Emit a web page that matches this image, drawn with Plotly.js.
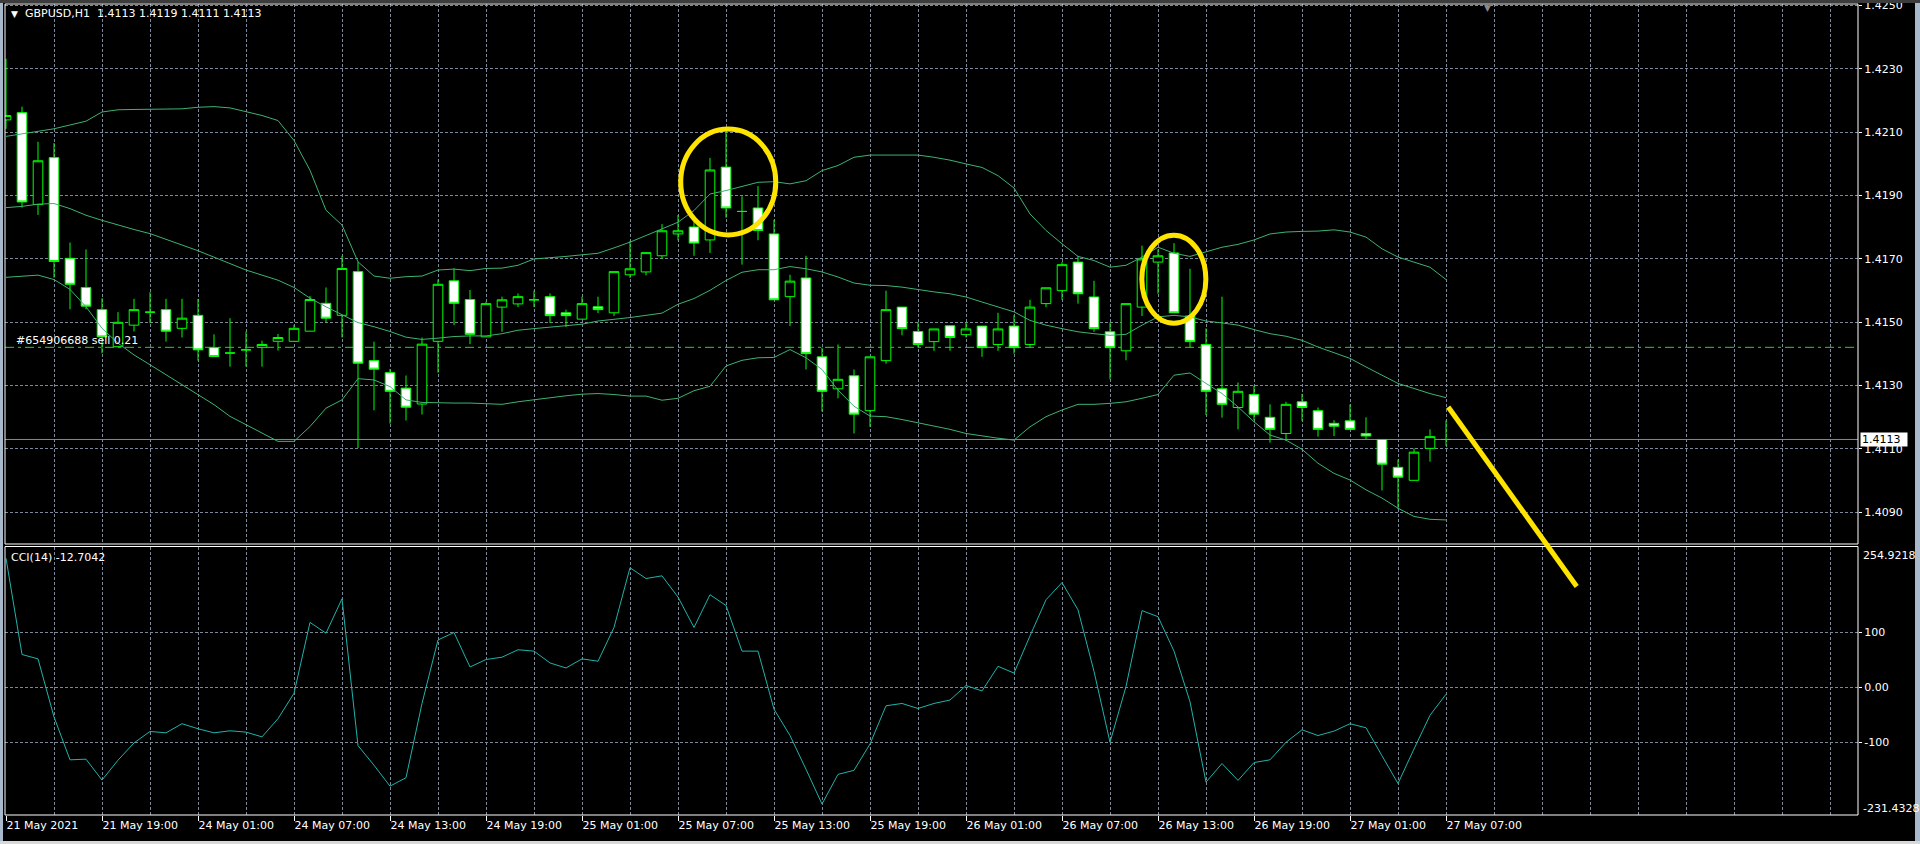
<!DOCTYPE html>
<html>
<head>
<meta charset="utf-8">
<script src="https://cdn.plot.ly/plotly-3.0.1.min.js"></script>
<style>
html,body{margin:0;padding:0;background:#000;overflow:hidden;}
#chart{width:1920px;height:844px;}
</style>
</head>
<body>
<div id="chart"></div>
<script>
// ---- data (GBPUSD H1, 21 May 13:00 .. 27 May 07:00) ----
const openP = [1.42139,1.42162,1.41872,1.42020,1.41702,1.41610,1.41540,1.41423,1.41491,1.41532,
1.41540,1.41481,1.41522,1.41420,1.41403,1.41413,1.41421,1.41440,1.41440,1.41472,
1.41560,1.41522,1.41660,1.41379,1.41341,1.41292,1.41242,1.41440,1.41631,1.41572,
1.41454,1.41548,1.41558,1.41571,1.41581,1.41530,1.41510,1.41549,1.41530,1.41650,
1.41659,1.41710,1.41779,1.41801,1.41760,1.41990,1.41850,1.41861,1.41779,1.41581,
1.41640,1.41391,1.41290,1.41331,1.41221,1.41379,1.41548,1.41471,1.41439,1.41489,
1.41461,1.41488,1.41430,1.41488,1.41430,1.41559,1.41600,1.41690,1.41580,1.41470,
1.41410,1.41548,1.41690,1.41719,1.41520,1.41430,1.41290,1.41231,1.41272,1.41200,
1.41149,1.41249,1.41221,1.41181,1.41189,1.41149,1.41130,1.41042,1.41001,1.41102,
1.41130];
const highP = [1.42332,1.42181,1.42070,1.42066,1.41752,1.41730,1.41576,1.41532,1.41574,1.41595,
1.41574,1.41574,1.41574,1.41462,1.41513,1.41471,1.41442,1.41463,1.41492,1.41583,
1.41610,1.41710,1.41691,1.41439,1.41352,1.41332,1.41452,1.41635,1.41670,1.41602,
1.41565,1.41581,1.41591,1.41600,1.41591,1.41540,1.41581,1.41581,1.41660,1.41757,
1.41720,1.41810,1.41839,1.41819,1.42019,1.42102,1.41898,1.41930,1.41824,1.41650,
1.41710,1.41420,1.41430,1.41351,1.41391,1.41600,1.41548,1.41500,1.41479,1.41489,
1.41500,1.41488,1.41530,1.41522,1.41571,1.41609,1.41690,1.41710,1.41631,1.41500,
1.41559,1.41742,1.41730,1.41750,1.41669,1.41481,1.41581,1.41310,1.41300,1.41241,
1.41249,1.41274,1.41231,1.41191,1.41241,1.41200,1.41130,1.41067,1.41102,1.41162,
1.41190];
const lowP = [1.42111,1.41862,1.41839,1.41641,1.41541,1.41541,1.41402,1.41423,1.41471,1.41497,
1.41439,1.41452,1.41379,1.41392,1.41360,1.41360,1.41360,1.41411,1.41440,1.41472,
1.41500,1.41452,1.41103,1.41222,1.41180,1.41190,1.41209,1.41341,1.41491,1.41431,
1.41454,1.41470,1.41548,1.41548,1.41498,1.41485,1.41510,1.41529,1.41520,1.41640,
1.41648,1.41700,1.41759,1.41710,1.41719,1.41830,1.41682,1.41759,1.41571,1.41488,
1.41351,1.41218,1.41260,1.41149,1.41170,1.41369,1.41459,1.41420,1.41410,1.41410,
1.41452,1.41391,1.41410,1.41401,1.41420,1.41548,1.41571,1.41559,1.41470,1.41320,
1.41380,1.41520,1.41590,1.41530,1.41420,1.41207,1.41199,1.41162,1.41191,1.41120,
1.41126,1.41189,1.41139,1.41141,1.41162,1.41130,1.40969,1.40910,1.41001,1.41060,
1.41110];
const closeP = [1.42153,1.41880,1.42010,1.41692,1.41620,1.41551,1.41454,1.41500,1.41540,1.41532,
1.41472,1.41513,1.41413,1.41392,1.41403,1.41413,1.41430,1.41452,1.41481,1.41572,
1.41513,1.41670,1.41371,1.41352,1.41282,1.41232,1.41431,1.41620,1.41560,1.41462,
1.41559,1.41571,1.41581,1.41571,1.41521,1.41521,1.41559,1.41540,1.41660,1.41669,
1.41720,1.41789,1.41789,1.41750,1.41981,1.41861,1.41850,1.41790,1.41571,1.41630,
1.41401,1.41282,1.41320,1.41210,1.41391,1.41540,1.41480,1.41430,1.41479,1.41452,
1.41479,1.41420,1.41479,1.41420,1.41548,1.41609,1.41682,1.41590,1.41480,1.41420,
1.41559,1.41700,1.41710,1.41530,1.41439,1.41282,1.41241,1.41282,1.41210,1.41162,
1.41241,1.41231,1.41162,1.41172,1.41162,1.41141,1.41052,1.41011,1.41090,1.41139,
1.41130];

const bbUpper = [1.42087,1.42095,1.42104,1.42111,1.42123,1.42135,1.42164,1.42171,1.42172,1.42173,
1.42173,1.42174,1.42179,1.42181,1.42177,1.42164,1.42153,1.42137,1.42074,1.41980,
1.41854,1.41807,1.41691,1.41646,1.41639,1.41644,1.41646,1.41665,1.41668,1.41663,
1.41670,1.41671,1.41680,1.41700,1.41703,1.41708,1.41713,1.41718,1.41735,1.41753,
1.41774,1.41795,1.41816,1.41853,1.41905,1.41916,1.41928,1.41942,1.41944,1.41937,
1.41947,1.41979,1.41995,1.42021,1.42028,1.42028,1.42028,1.42028,1.42021,1.42012,
1.42000,1.41989,1.41963,1.41924,1.41842,1.41790,1.41748,1.41708,1.41695,1.41674,
1.41680,1.41706,1.41737,1.41718,1.41708,1.41722,1.41737,1.41746,1.41760,1.41779,
1.41785,1.41787,1.41788,1.41792,1.41785,1.41769,1.41732,1.41706,1.41690,1.41674,
1.41635];
const bbMiddle = [1.41862,1.41866,1.41873,1.41875,1.41859,1.41838,1.41822,1.41807,1.41793,1.41780,
1.41761,1.41744,1.41726,1.41705,1.41686,1.41665,1.41649,1.41633,1.41610,1.41576,
1.41549,1.41523,1.41499,1.41486,1.41471,1.41453,1.41446,1.41450,1.41455,1.41457,
1.41457,1.41464,1.41475,1.41480,1.41485,1.41488,1.41494,1.41504,1.41509,1.41515,
1.41522,1.41529,1.41557,1.41575,1.41601,1.41632,1.41658,1.41666,1.41666,1.41676,
1.41669,1.41659,1.41643,1.41624,1.41617,1.41616,1.41611,1.41603,1.41596,1.41590,
1.41580,1.41564,1.41548,1.41533,1.41506,1.41491,1.41480,1.41470,1.41464,1.41459,
1.41462,1.41491,1.41517,1.41522,1.41517,1.41504,1.41498,1.41491,1.41477,1.41464,
1.41456,1.41443,1.41422,1.41403,1.41386,1.41359,1.41333,1.41307,1.41291,1.41275,
1.41262];
const bbLower = [1.41642,1.41646,1.41649,1.41635,1.41604,1.41549,1.41481,1.41434,1.41397,1.41366,
1.41334,1.41303,1.41271,1.41240,1.41203,1.41177,1.41150,1.41124,1.41124,1.41171,
1.41229,1.41255,1.41322,1.41318,1.41297,1.41255,1.41247,1.41245,1.41245,1.41245,
1.41242,1.41241,1.41249,1.41256,1.41263,1.41268,1.41273,1.41275,1.41272,1.41267,
1.41267,1.41254,1.41260,1.41284,1.41298,1.41362,1.41380,1.41388,1.41389,1.41414,
1.41388,1.41351,1.41286,1.41235,1.41204,1.41202,1.41193,1.41183,1.41172,1.41162,
1.41149,1.41141,1.41134,1.41128,1.41170,1.41202,1.41223,1.41241,1.41241,1.41244,
1.41249,1.41260,1.41272,1.41333,1.41340,1.41307,1.41275,1.41233,1.41186,1.41144,
1.41128,1.41099,1.41055,1.41023,1.41002,1.40971,1.40945,1.40913,1.40887,1.40878,
1.40876];

const cci14 = [233.6,59.3,51.4,-53.8,-131.5,-130.3,-168.2,-132.1,-100.9,-80.1,
-82.6,-66.1,-75.2,-82.6,-78.9,-81.3,-89.9,-56.9,-11.0,117.4,
97.9,160.2,-105.8,-141.3,-179.2,-163.9,-29.4,85.6,99.1,36.7,
50.2,54.4,67.9,65.4,44.0,34.9,51.4,47.1,108.3,216.5,
196.9,201.8,163.3,108.3,167.6,148.0,65.4,65.4,-39.8,-87.5,
-148.6,-211.6,-157.8,-150.5,-102.8,-33.6,-29.4,-38.5,-29.4,-23.2,
3.1,-6.7,37.9,25.7,93.0,158.4,189.6,140.1,28.7,-99.7,
1.2,138.8,127.8,65.4,-26.3,-171.9,-138.2,-168.8,-136.4,-131.5,
-99.7,-77.1,-87.5,-79.5,-66.1,-73.4,-124.2,-174.3,-111.9,-50.8,
-12.7042];

const timeLabelBars = [0,6,12,18,24,30,36,42,48,54,60,66,72,78,84,90];
const timeLabels = ['21 May 2021','21 May 19:00','24 May 01:00','24 May 07:00','24 May 13:00',
'24 May 19:00','25 May 01:00','25 May 07:00','25 May 13:00','25 May 19:00','26 May 01:00',
'26 May 07:00','26 May 13:00','26 May 19:00','27 May 01:00','27 May 07:00'];
const priceTicks = [1.4090,1.4110,1.4130,1.4150,1.4170,1.4190,1.4210,1.4230,1.4250];
const priceTickText = ['1.4090','1.4110','1.4130','1.4150','1.4170','1.4190','1.4210','1.4230','1.4250'];
const cciTicks = [100,0,-100];
const cciTickText = ['100','0.00','-100'];
const cciMax = 254.9218, cciMin = -231.4328;
const bidPrice = 1.4113;
const orderPrice = 1.41421;
const titleText = 'GBPUSD,H1\u00a0\u00a01.4113 1.4119 1.4111 1.4113';
const cciTitle = 'CCI(14) -12.7042';
const orderLabel = '#654906688 sell 0.21';

const bars = openP.map((_, i) => i);

// ---- geometry helpers (pixel -> paper) ----
const W = 1920, H = 844, ML = 5, MR = 62, MT = 4, MB = 29;
const PW = W - ML - MR, PH = H - MT - MB;
const px = x => (x - ML) / PW;
const py = y => (H - MB - y) / PH;

const gridCol = '#7d889a';
const gridDash = '3px,2px';
const font = 'DejaVu Sans';

const traces = [
  {
    type: 'candlestick', x: bars, open: openP, high: highP, low: lowP, close: closeP,
    xaxis: 'x', yaxis: 'y', hoverinfo: 'skip', whiskerwidth: 0,
    increasing: {line: {color: '#00ff00', width: 1}, fillcolor: '#000000'},
    decreasing: {line: {color: '#00ff00', width: 1}, fillcolor: '#ffffff'}
  },
  {type: 'scatter', mode: 'lines', x: bars, y: bbUpper, xaxis: 'x', yaxis: 'y', line: {color: '#3cb371', width: 1}, hoverinfo: 'skip'},
  {type: 'scatter', mode: 'lines', x: bars, y: bbMiddle, xaxis: 'x', yaxis: 'y', line: {color: '#3cb371', width: 1}, hoverinfo: 'skip'},
  {type: 'scatter', mode: 'lines', x: bars, y: bbLower, xaxis: 'x', yaxis: 'y', line: {color: '#3cb371', width: 1}, hoverinfo: 'skip'},
  {type: 'scatter', mode: 'lines', x: bars, y: cci14, xaxis: 'x', yaxis: 'y2', line: {color: '#20b2aa', width: 1}, hoverinfo: 'skip'}
];

const mainBottomPx = 544, cciTopPx = 546.5;
const layout = {
  width: W, height: H,
  paper_bgcolor: '#000000', plot_bgcolor: '#000000',
  margin: {l: ML, r: MR, t: MT, b: MB, pad: 0},
  showlegend: false,
  font: {family: font, size: 11, color: '#ffffff'},
  boxgap: 0.4, boxgroupgap: 0,
  xaxis: {
    domain: [0, 1], anchor: 'y2', range: [-0.0625, 115.75],
    tickmode: 'array', tickvals: timeLabelBars, ticktext: timeLabels,
    ticks: 'outside', ticklen: 5, tickcolor: '#ffffff', tickwidth: 1,
    ticklabelposition: 'outside right',
    tickfont: {family: font, size: 11, color: '#ffffff'},
    showgrid: true, gridcolor: gridCol, griddash: gridDash, gridwidth: 1,
    minor: {tickmode: 'linear', tick0: 0, dtick: 3, showgrid: true, gridcolor: gridCol, griddash: gridDash, gridwidth: 1, ticks: ''},
    showline: false, zeroline: false, rangeslider: {visible: false}, fixedrange: true
  },
  yaxis: {
    domain: [py(mainBottomPx), 1], anchor: 'x', side: 'right',
    range: [1.40800, 1.42505],
    tickmode: 'array', tickvals: priceTicks, ticktext: priceTickText,
    ticks: 'outside', ticklen: 3, tickcolor: '#ffffff',
    ticklabeloverflow: 'allow',
    tickfont: {family: font, size: 11, color: '#ffffff'},
    showgrid: true, gridcolor: gridCol, griddash: gridDash,
    showline: false, zeroline: false, fixedrange: true
  },
  yaxis2: {
    domain: [0, py(cciTopPx)], anchor: 'x', side: 'right',
    range: [cciMin, cciMax],
    tickmode: 'array', tickvals: cciTicks, ticktext: cciTickText,
    ticks: 'outside', ticklen: 3, tickcolor: '#ffffff',
    tickfont: {family: font, size: 11, color: '#ffffff'},
    showgrid: true, gridcolor: gridCol, griddash: gridDash,
    showline: false, zeroline: false, fixedrange: true
  },
  shapes: [
    // trade level and bid line
    {type: 'line', xref: 'paper', yref: 'y', x0: 0, x1: 1, y0: orderPrice, y1: orderPrice, layer: 'between',
     line: {color: '#22d822', width: 1, dash: '9px,4px,3px,4px'}},
    {type: 'line', xref: 'paper', yref: 'y', x0: 0, x1: 1, y0: bidPrice, y1: bidPrice, layer: 'between',
     line: {color: '#7b8ba0', width: 1}},
    // panel frames
    {type: 'rect', xref: 'paper', yref: 'paper', x0: 0, x1: 1, y0: py(mainBottomPx), y1: 1, line: {color: '#ffffff', width: 1}},
    {type: 'rect', xref: 'paper', yref: 'paper', x0: 0, x1: 1, y0: 0, y1: py(cciTopPx), line: {color: '#ffffff', width: 1}},
    // window frame bits
    {type: 'rect', xref: 'paper', yref: 'paper', x0: px(0), x1: px(3), y0: py(H), y1: py(0), line: {width: 0}, fillcolor: '#a9b9cc'},
    {type: 'rect', xref: 'paper', yref: 'paper', x0: px(1915), x1: px(1920), y0: py(H), y1: py(0), line: {width: 0}, fillcolor: '#a9b9cc'},
    {type: 'rect', xref: 'paper', yref: 'paper', x0: px(0), x1: px(1920), y0: py(3), y1: py(0), line: {width: 0}, fillcolor: '#3c3c3c'},
    {type: 'rect', xref: 'paper', yref: 'paper', x0: px(0), x1: px(1920), y0: py(H), y1: py(841), line: {width: 0}, fillcolor: '#d8d8d8'},
    // hand-drawn yellow marks
    {type: 'circle', xref: 'x', yref: 'y', x0: 42.17, x1: 48.11, y0: 1.41776, y1: 1.42110, layer: 'above',
     line: {color: '#ffe400', width: 5}},
    {type: 'circle', xref: 'x', yref: 'y', x0: 70.99, x1: 74.99, y0: 1.41497, y1: 1.41775, layer: 'above',
     line: {color: '#ffe400', width: 5}},
    {type: 'line', xref: 'x', yref: 'paper', x0: 90.14, x1: 98.17, y0: py(407), y1: py(586.5), layer: 'above',
     line: {color: '#ffe400', width: 5}}
  ],
  annotations: [
    {xref: 'paper', yref: 'paper', x: px(9), y: py(13.5), xanchor: 'left', yanchor: 'middle', showarrow: false,
     text: '\u25BC', font: {family: font, size: 9, color: '#ffffff'}},
    {xref: 'paper', yref: 'paper', x: px(23), y: py(13.5), xanchor: 'left', yanchor: 'middle', showarrow: false,
     text: titleText, font: {family: font, size: 11, color: '#ffffff'}},
    {xref: 'paper', yref: 'paper', x: px(9), y: py(557.5), xanchor: 'left', yanchor: 'middle', showarrow: false,
     text: cciTitle, font: {family: font, size: 11, color: '#ffffff'}},
    {xref: 'paper', yref: 'y', x: px(14), y: orderPrice, yshift: 7, xanchor: 'left', yanchor: 'middle', showarrow: false,
     text: orderLabel, font: {family: font, size: 11, color: '#ffffff'}},
    {xref: 'paper', yref: 'y', x: px(1860), y: bidPrice, xanchor: 'left', yanchor: 'middle', showarrow: false,
     text: bidPrice.toFixed(4), bgcolor: '#ffffff', width: 44, height: 11, align: 'left', borderpad: 1,
     font: {family: font, size: 11, color: '#000000'}},
    {xref: 'paper', yref: 'paper', x: px(1861), y: py(555), xanchor: 'left', yanchor: 'middle', showarrow: false,
     text: cciMax.toFixed(4), font: {family: font, size: 11, color: '#ffffff'}},
    {xref: 'paper', yref: 'paper', x: px(1861), y: py(808.5), xanchor: 'left', yanchor: 'middle', showarrow: false,
     text: cciMin.toFixed(4), font: {family: font, size: 11, color: '#ffffff'}},
    {xref: 'paper', yref: 'paper', x: px(1487), y: py(1), xanchor: 'center', yanchor: 'top', showarrow: false,
     text: '\u25BC', font: {family: font, size: 9, color: '#8a8a8a'}}
  ]
};

Plotly.newPlot('chart', traces, layout, {staticPlot: true, displayModeBar: false});
</script>
</body>
</html>
